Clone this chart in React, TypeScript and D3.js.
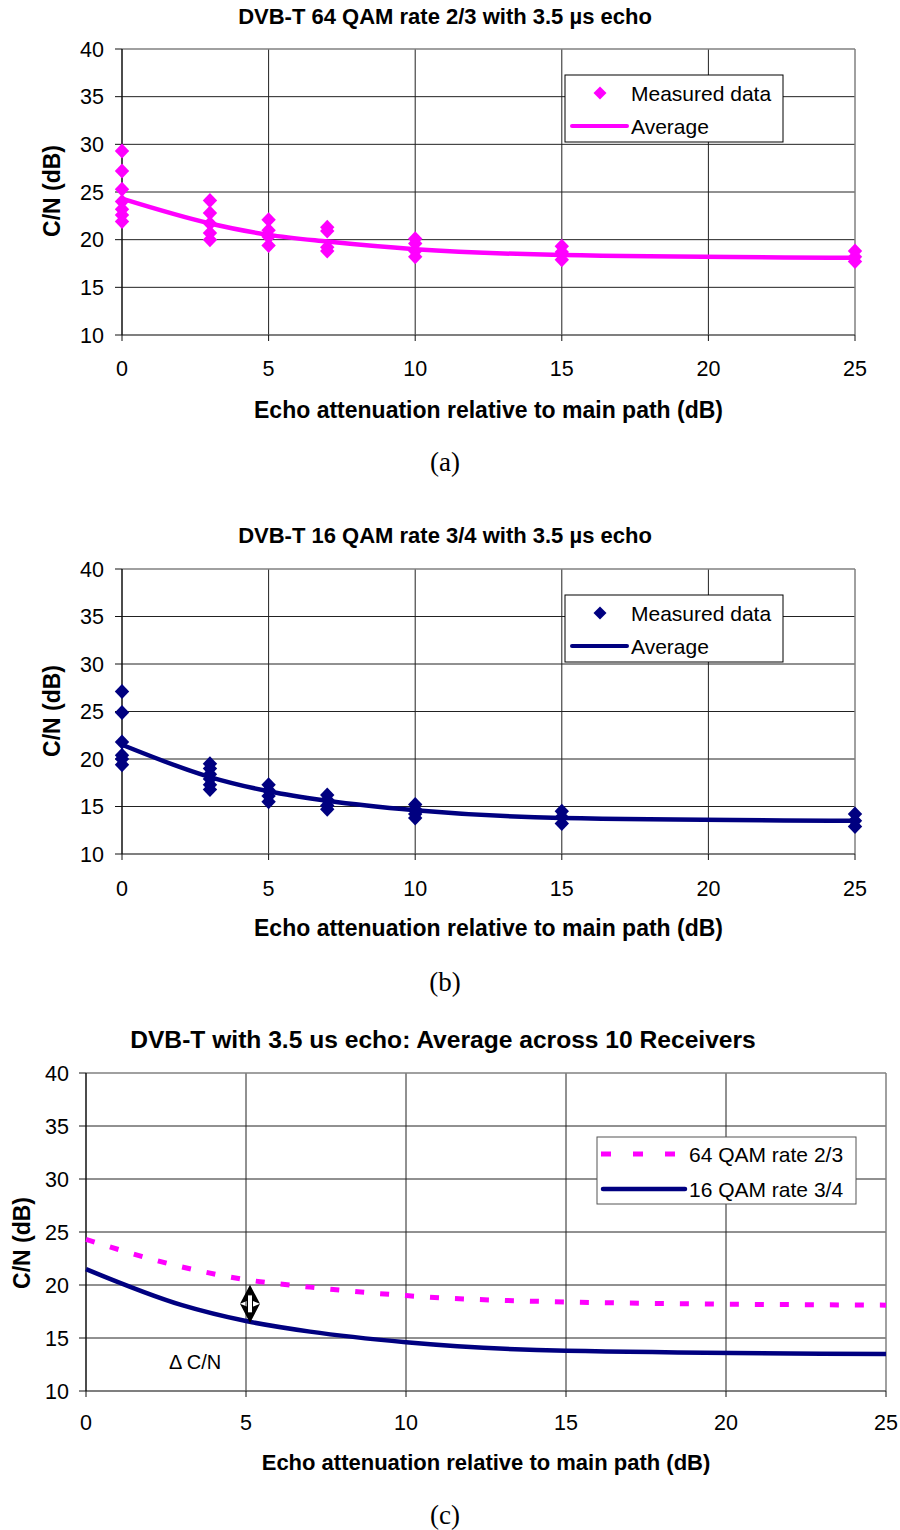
import React from "react";
import * as d3 from "d3";

// ---------- DATA ----------
const echoAtten = [0, 3, 5, 7, 10, 15, 25];
const yTicks = [10, 15, 20, 25, 30, 35, 40];
const xTicks = [0, 5, 10, 15, 20, 25];

// measured points (64 QAM rate 2/3), one list per echo attenuation
const measured64 = [
  [29.3, 27.2, 25.3, 24.0, 23.2, 22.6, 21.9],
  [24.1, 22.8, 21.7, 20.7, 20.0],
  [22.1, 21.0, 20.3, 19.4],
  [21.3, 20.9, 19.2, 18.8],
  [20.1, 19.6, 18.8, 18.2],
  [19.3, 18.7, 17.9],
  [18.8, 18.2, 17.7],
];
const average64 = [24.3, 21.7, 20.5, 19.8, 19.0, 18.4, 18.1];

// measured points (16 QAM rate 3/4)
const measured16 = [
  [27.1, 24.9, 21.8, 20.4, 20.0, 19.4],
  [19.5, 19.0, 18.4, 17.9, 17.3, 16.8],
  [17.3, 16.7, 16.1, 15.5],
  [16.2, 15.7, 15.1, 14.7],
  [15.2, 14.7, 14.2, 13.8],
  [14.5, 13.9, 13.2],
  [14.2, 13.5, 12.9],
];
const average16 = [21.5, 18.1, 16.6, 15.6, 14.6, 13.8, 13.5];

const titleA = "DVB-T 64 QAM rate 2/3 with 3.5 \u00b5s echo";
const titleB = "DVB-T 16 QAM rate 3/4 with 3.5 \u00b5s echo";
const titleC = "DVB-T with 3.5 us echo: Average across 10 Receivers";
const xTitle = "Echo attenuation relative to main path (dB)";
const yTitle = "C/N (dB)";

const MAGENTA = "#ff00ff";
const NAVY = "#000080";
const FONT = "Liberation Sans, Arial, sans-serif";

type TProps = {
  x: number; y: number; size: number; anchor?: "start" | "middle" | "end";
  bold?: boolean; rotate?: number; family?: string; children: React.ReactNode;
};
function T({ x, y, size, anchor = "start", bold, rotate = 0, family = FONT, children }: TProps) {
  return (
    <text
      transform={`translate(${x},${y}) rotate(${rotate})`}
      textAnchor={anchor}
      fontSize={size}
      fontWeight={bold ? "bold" : "normal"}
      fontFamily={family}
      fill="#000"
    >
      {children}
    </text>
  );
}

type Panel = {
  left: number; right: number; top: number; bottom: number;
  titleX: number; titleY: number; title: string; titleSize: number;
  tickY: number; xTitleY: number; xTitleSize: number; yTitleX: number; yTitleCY: number;
  captionY: number; caption: string; yLabelRight: number;
};

function Axes({ p, x, y }: { p: Panel; x: d3.ScaleLinear<number, number>; y: d3.ScaleLinear<number, number> }) {
  return (
    <g>
      {yTicks.filter((t) => t !== 10 && t !== 40).map((t) => (
        <line key={"hg" + t} x1={p.left} x2={p.right} y1={y(t)} y2={y(t)} stroke="#222" strokeWidth={1} />
      ))}
      {xTicks.filter((t) => t !== 0 && t !== 25).map((t) => (
        <line key={"vg" + t} x1={x(t)} x2={x(t)} y1={p.top} y2={p.bottom} stroke="#222" strokeWidth={1} />
      ))}
      <line x1={p.left} x2={p.right} y1={p.top} y2={p.top} stroke="#808080" strokeWidth={1.5} />
      <line x1={p.right} x2={p.right} y1={p.top} y2={p.bottom} stroke="#808080" strokeWidth={1.5} />
      <line x1={p.left} x2={p.right} y1={p.bottom} y2={p.bottom} stroke="#555" strokeWidth={1.5} />
      <line x1={p.left} x2={p.left} y1={p.top} y2={p.bottom} stroke="#111" strokeWidth={1.5} />
      {yTicks.map((t) => (
        <g key={"yt" + t}>
          <line x1={p.left - 7} x2={p.left} y1={y(t)} y2={y(t)} stroke="#111" strokeWidth={1} />
          <T x={p.yLabelRight} y={y(t) + 7.8} size={21.5} anchor="end">{t}</T>
        </g>
      ))}
      {xTicks.map((t) => (
        <g key={"xt" + t}>
          <line x1={x(t)} x2={x(t)} y1={p.bottom} y2={p.bottom + 6} stroke="#111" strokeWidth={1} />
          <T x={x(t)} y={p.tickY + 7.8} size={21.5} anchor="middle">{t}</T>
        </g>
      ))}
      <T x={p.titleX} y={p.titleY + 7.8} size={p.titleSize} anchor="middle" bold>{p.title}</T>
      <T x={(p.left + p.right) / 2} y={p.xTitleY + 8.2} size={p.xTitleSize} anchor="middle" bold>{xTitle}</T>
      <T x={p.yTitleX + 8.3} y={p.yTitleCY} size={23} anchor="middle" bold rotate={-90}>{yTitle}</T>
      <T x={445} y={p.captionY + 9} size={27} anchor="middle" family="Liberation Serif, Times New Roman, serif">{p.caption}</T>
    </g>
  );
}

function diamond(cx: number, cy: number, w: number, h: number) {
  return `M${cx},${cy - h} L${cx + w},${cy} L${cx},${cy + h} L${cx - w},${cy} Z`;
}

function ScatterPanel({ p, measured, average, color }: { p: Panel; measured: number[][]; average: number[]; color: string }) {
  const x = d3.scaleLinear().domain([0, 25]).range([p.left, p.right]);
  const y = d3.scaleLinear().domain([10, 40]).range([p.bottom, p.top]);
  const line = d3.line<number>().x((_, i) => x(echoAtten[i])).y((d) => y(d)).curve(d3.curveMonotoneX);
  const legX = 565, legY = p.top + 26;
  return (
    <g>
      <Axes p={p} x={x} y={y} />
      <path d={line(average) || ""} fill="none" stroke={color} strokeWidth={4.5} strokeLinejoin="round" />
      {measured.map((vals, i) =>
        vals.map((v, j) => <path key={i + "-" + j} d={diamond(x(echoAtten[i]), y(v), 7.2, 7.5)} fill={color} />)
      )}
      <g>
        <rect x={legX} y={legY} width={218} height={67} fill="#fff" stroke="#000" strokeWidth={1} />
        <path d={diamond(legX + 35, legY + 18, 6.5, 6.5)} fill={color} />
        <T x={legX + 66} y={legY + 25.5} size={21}>Measured data</T>
        <line x1={legX + 7} x2={legX + 62} y1={legY + 51} y2={legY + 51} stroke={color} strokeWidth={4} strokeLinecap="round" />
        <T x={legX + 66} y={legY + 58.5} size={21}>Average</T>
      </g>
    </g>
  );
}

function AveragePanel({ p }: { p: Panel }) {
  const x = d3.scaleLinear().domain([0, 25]).range([p.left, p.right]);
  const y = d3.scaleLinear().domain([10, 40]).range([p.bottom, p.top]);
  const line = d3.line<number>().x((_, i) => x(echoAtten[i])).y((d) => y(d)).curve(d3.curveMonotoneX);
  const ax = x(5) + 4;
  const yTop = y(average64[2]) + 5;
  const yBot = y(average16[2]) + 2;
  const yMid = (yTop + yBot) / 2;
  const legX = 597, legY = 1137;
  return (
    <g>
      <Axes p={p} x={x} y={y} />
      <path d={line(average64) || ""} fill="none" stroke={MAGENTA} strokeWidth={5} strokeDasharray="9,16" />
      <path d={line(average16) || ""} fill="none" stroke={NAVY} strokeWidth={4.5} />
      <path d={`M${ax},${yTop} L${ax + 10},${yMid} L${ax},${yMid - 4} L${ax - 10},${yMid} Z`} fill="#000" />
      <path d={`M${ax},${yBot} L${ax + 10},${yMid} L${ax},${yMid + 4} L${ax - 10},${yMid} Z`} fill="#000" />
      <rect x={ax - 2.5} y={yMid - 9} width={5} height={18} fill="#fff" stroke="#000" strokeWidth={1} />
      <T x={169} y={1369} size={20}>{"\u0394 C/N"}</T>
      <g>
        <rect x={legX} y={legY} width={259} height={67} fill="#fff" stroke="#555" strokeWidth={1} />
        <line x1={legX + 4} x2={legX + 88} y1={legY + 17} y2={legY + 17} stroke={MAGENTA} strokeWidth={5} strokeDasharray="10,22" />
        <T x={legX + 92} y={legY + 24.5} size={21}>64 QAM rate 2/3</T>
        <line x1={legX + 6} x2={legX + 88} y1={legY + 52} y2={legY + 52} stroke={NAVY} strokeWidth={4.5} strokeLinecap="round" />
        <T x={legX + 92} y={legY + 59.5} size={21}>16 QAM rate 3/4</T>
      </g>
    </g>
  );
}

const panelA: Panel = {
  left: 122, right: 855, top: 49, bottom: 335, titleX: 445, titleY: 16, title: titleA, titleSize: 22,
  tickY: 368, xTitleY: 410, xTitleSize: 23, yTitleX: 52, yTitleCY: 191, captionY: 462, caption: "(a)", yLabelRight: 104,
};
const panelB: Panel = {
  left: 122, right: 855, top: 569, bottom: 854, titleX: 445, titleY: 535, title: titleB, titleSize: 22,
  tickY: 888, xTitleY: 928, xTitleSize: 23, yTitleX: 52, yTitleCY: 711, captionY: 982, caption: "(b)", yLabelRight: 104,
};
const panelC: Panel = {
  left: 86, right: 886, top: 1073, bottom: 1391, titleX: 443, titleY: 1040, title: titleC, titleSize: 24.6,
  tickY: 1422, xTitleY: 1462, xTitleSize: 22, yTitleX: 22, yTitleCY: 1243, captionY: 1515, caption: "(c)", yLabelRight: 69,
};

export default function App() {
  return (
    <svg width={900} height={1530} style={{ position: "absolute", left: 0, top: 0, background: "#fff" }}>
      <rect x={0} y={0} width={900} height={1530} fill="#fff" />
      <ScatterPanel p={panelA} measured={measured64} average={average64} color={MAGENTA} />
      <ScatterPanel p={panelB} measured={measured16} average={average16} color={NAVY} />
      <AveragePanel p={panelC} />
    </svg>
  );
}
